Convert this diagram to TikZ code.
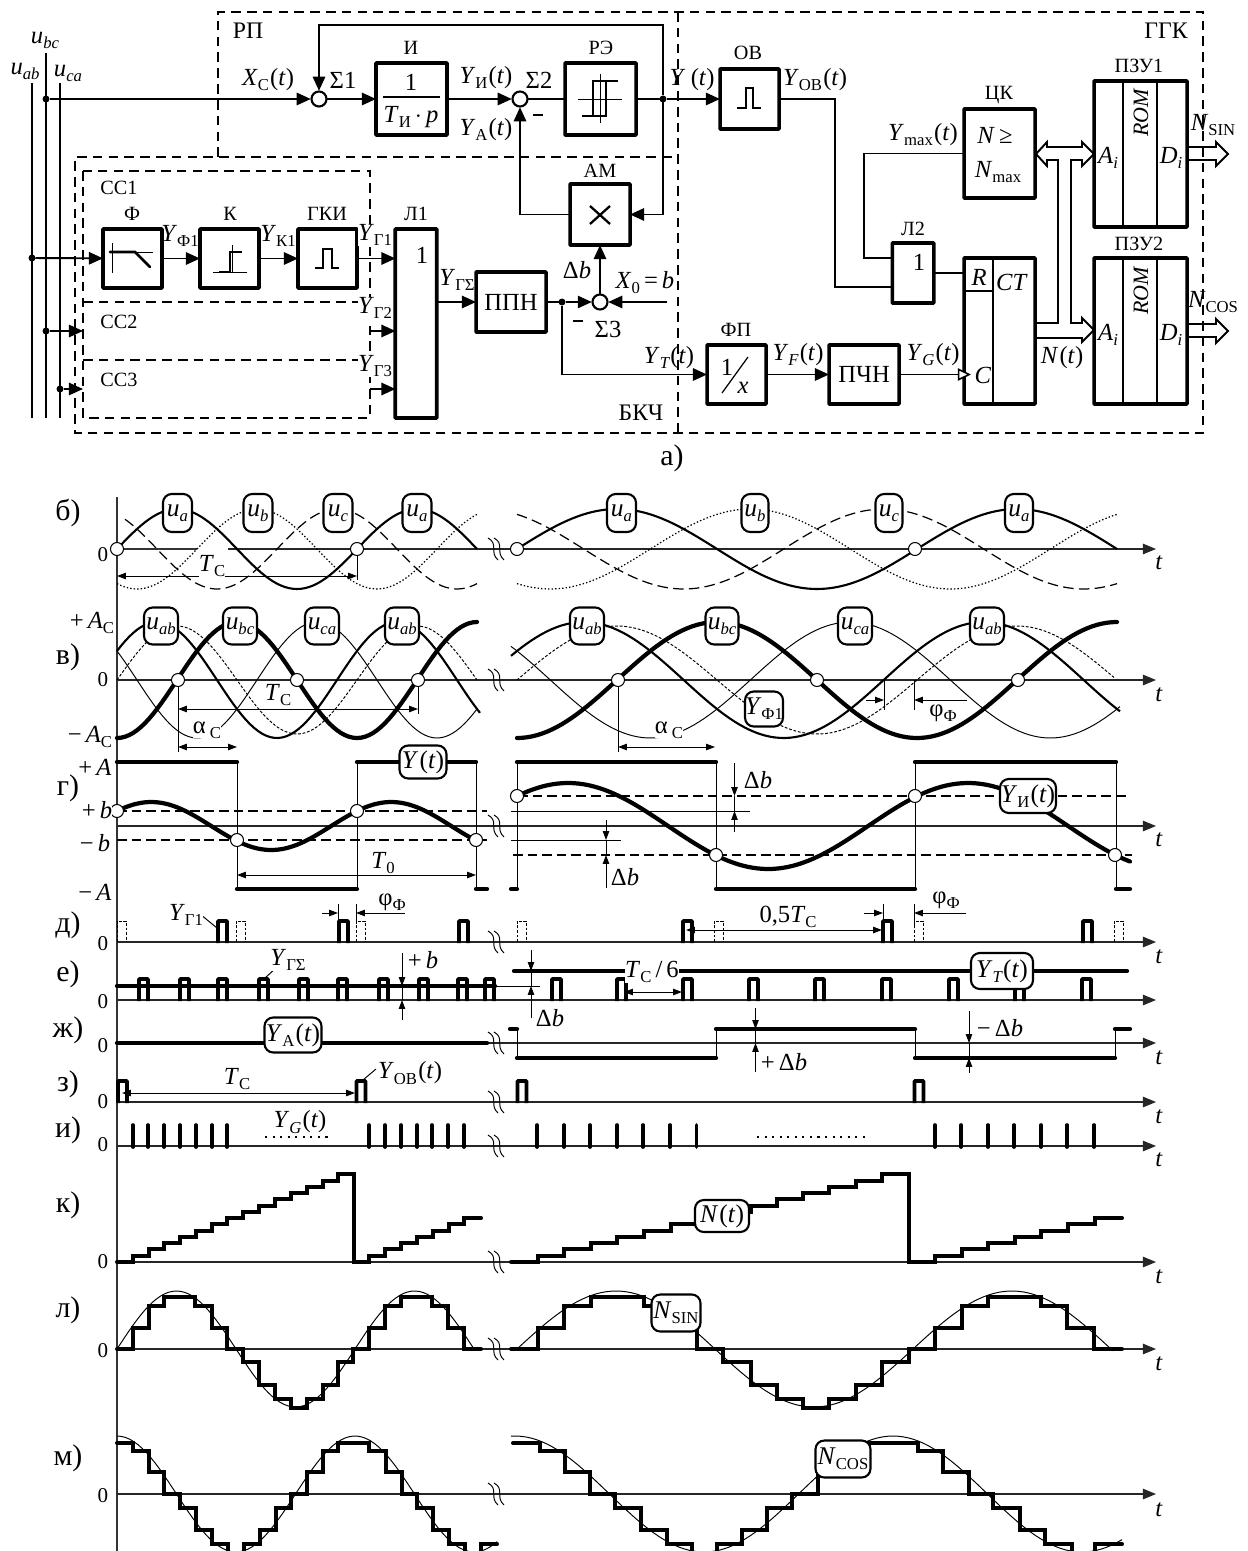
\documentclass[tikz,border=0pt]{standalone}
\usepackage{fontspec}
\setmainfont{Liberation Serif}
\usetikzlibrary{arrows.meta, calc}
\def\px{0.02cm}
\newcommand{\sbr}[2]{\textit{#1}\raisebox{-0.45ex}{\fontsize{9.5}{9.5}\selectfont #2}}
\newcommand{\sbi}[2]{\textit{#1}\raisebox{-0.45ex}{\fontsize{9.5}{9.5}\selectfont\itshape #2}}
\newcommand{\oft}{\kern0.05em(\textit{t})}
\tikzset{
  blk/.style 2 args={draw, line width=2pt, outer sep=0pt, inner sep=0pt, rounded corners=0.4pt,
    minimum width=#1*\px, minimum height=#2*\px},
  sumc/.style={circle, draw, fill=white, line width=1.2pt, minimum size=15*\px, inner sep=0pt, outer sep=0.4pt},
  jdot/.style={circle, fill=black, minimum size=7*\px, inner sep=0pt, outer sep=0pt},
  wire/.style={line width=1.1pt},
  sig/.style={wire, -{Triangle[length=8pt,width=7pt]}},
  frm/.style={line width=0.6pt, dash pattern=on 5.5pt off 3.5pt},
  bus/.style={line width=1.1pt, line join=miter},
  headl/.style={inner sep=0pt, font=\fontsize{11.5}{11.5}\selectfont},
  headb/.style={inner sep=0pt, font=\fontsize{13.5}{13.5}\selectfont},
  syml/.style={inner sep=0pt, font=\fontsize{14}{14}\selectfont},
  wavl/.style={inner sep=0pt, fill=white, font=\fontsize{14}{14}\selectfont},
  panl/.style={inner sep=0pt, font=\fontsize{17}{17}\selectfont},
  zerol/.style={inner sep=0pt, font=\fontsize{12}{12}\selectfont},
  tag/.style 2 args={draw, fill=white, line width=1.2pt, rounded corners=5pt, inner sep=0pt, outer sep=0pt,
    minimum width=#1*\px, minimum height=#2*\px, font=\fontsize{14.5}{14.5}\selectfont},
  axisln/.style={line width=0.7pt, black!80},
  axarr/.style={line width=0.7pt, black!85, -{Triangle[length=7.5pt,width=6pt]}},
  thin1/.style={line width=0.55pt},
  med1/.style={line width=1.2pt},
  thk1/.style={line width=2.4pt, line cap=round},
  stair/.style={line width=2.3pt, line cap=round, line join=miter},
  pulse/.style={line width=2.2pt, rounded corners=0.5pt},
  dpulse/.style={line width=0.55pt, dash pattern=on 1.6pt off 1pt},
  dimb/.style={line width=0.55pt, {Triangle[length=5pt,width=3.6pt]}-{Triangle[length=5pt,width=3.6pt]}},
  dimr/.style={line width=0.55pt, -{Triangle[length=5pt,width=3.6pt]}},
  dashl/.style={line width=0.8pt, dash pattern=on 5.5pt off 2.8pt},
  axisbrk/.pic={
    \draw[line width=0.55pt] (-8,-11) .. controls (3,-5) and (-7,3) .. (2,11);
    \draw[line width=0.55pt] (-2,-11) .. controls (9,-5) and (-1,3) .. (8,11);
  },
}
\begin{document}
\begin{tikzpicture}[x=0.02cm, y=-0.02cm]
  \path[use as bounding box, clip] (0,0) rectangle (1247,1551);
  % frames
  \draw[frm] (218,157) -- (218,12) -- (1203,12) -- (1203,433) -- (75,433) -- (75,157) -- (678,157);
  \draw[frm] (678,12) -- (678,433);
  \draw[frm] (83,171) rectangle (370,418);
  \draw[frm] (83,302) -- (370,302);
  \draw[frm] (83,360) -- (370,360);
  % blocks
  \node[blk={71}{72}] (integ) at (411.5,99) {};
  \node[blk={71}{72}] (relay) at (600.5,99) {};
  \node[blk={60}{61}] (ampm) at (600,214.5) {};
  \node[blk={59}{59}] (filt) at (132.5,258.5) {};
  \node[blk={59}{59}] (comp) at (229.5,258.5) {};
  \node[blk={59}{59}] (gki) at (327.5,258.5) {};
  \node[blk={41.5}{189}] (logone) at (416,323.5) {};
  \node[blk={70}{60}] (ppn) at (511,302) {\fontsize{14}{14}\selectfont ППН};
  \node[blk={59}{60}] (shot) at (749.5,99) {};
  \node[blk={71}{89}] (codec) at (999.5,153.5) {};
  \node[blk={71}{146}] (count) at (999.5,331) {};
  \node[blk={41.5}{60}] (logtwo) at (913,273) {};
  \node[blk={59}{59}] (recip) at (736.5,374.5) {};
  \node[blk={70}{59}] (pch) at (864,374.5) {\fontsize{14}{14}\selectfont ПЧН};
  \node[blk={93}{146}] (romone) at (1140.5,154) {};
  \node[blk={93}{146}] (romtwo) at (1140.5,331) {};
  \node[sumc] (sumone) at (319,99) {};
  \node[sumc] (sumtwo) at (520,99) {};
  \node[sumc] (sumthree) at (600,302) {};
  % junctions and free ends
  \node[jdot] (dotbc) at (46,99) {};
  \node[jdot] (dotab) at (32,258) {};
  \node[jdot] (dotbctwo) at (46,331) {};
  \node[jdot] (dotca) at (60,389) {};
  \node[jdot] (dotY) at (663,99) {};
  \node[jdot] (dotppn) at (562,302) {};
  \coordinate (abT) at (32,83);   \coordinate (abB) at (32,418);
  \coordinate (bcT) at (46,53);   \coordinate (bcB) at (46,418);
  \coordinate (caT) at (60,83);   \coordinate (caB) at (60,418);
  \coordinate (cctwo) at (83,331);
  \coordinate (ccthree) at (83,389);
  \coordinate (outone) at (358,258.5);
  \coordinate (outtwo) at (370,331);
  \coordinate (outthree) at (370,389);
  \coordinate (inone) at (395.5,258.5);
  \coordinate (intwo) at (395.5,331);
  \coordinate (inthree) at (395.5,389);
  \coordinate (logout) at (436.5,302);
  \coordinate (xzero) at (667,302);
  \coordinate (ltwoa) at (892,258);
  \coordinate (ltwob) at (892,287);
  \coordinate (ctr) at (964,273);
  \coordinate (ctc) at (971,374.5);
  % wires
  \draw[wire] (abT) -- (abB);
  \draw[wire] (bcT) -- (bcB);
  \draw[wire] (caT) -- (caB);
  \draw[sig] (dotbc) -- (sumone);
  \draw[sig] (sumone) -- (integ);
  \draw[sig] (integ) -- (sumtwo);
  \draw[wire] (sumtwo) -- (relay);
  \draw[wire] (relay) -- (dotY);
  \draw[sig] (dotY) -- (shot);
  \draw[sig] (dotY) -- ++(0,-74) -| (sumone);
  \draw[sig] (dotY) |- (ampm);
  \draw[sig] (ampm) -| (sumtwo);
  \draw[sig] (sumthree) -- (ampm);
  \draw[sig] (dotab) -- (filt);
  \draw[sig] (filt) -- (comp);
  \draw[sig] (comp) -- (gki);
  \draw[sig] (outone) -- (inone);
  \draw[sig] (outtwo) -- (intwo);
  \draw[sig] (outthree) -- (inthree);
  \draw[sig] (dotbctwo) -- (cctwo);
  \draw[sig] (dotca) -- (ccthree);
  \draw[sig] (logout) -- (ppn);
  \draw[wire] (ppn) -- (dotppn);
  \draw[sig] (dotppn) -- (sumthree);
  \draw[sig] (xzero) -- (sumthree);
  \draw[sig] (dotppn) |- (recip);
  \draw[sig] (recip) -- (pch);
  \draw[wire, -{Triangle[open,fill=white,length=7.5pt,width=7pt,line width=0.9pt]}] (pch) -- (ctc);
  \draw[wire] (shot.east) -- ++(56,0) |- (ltwob);
  \draw[wire] (codec.west) -- ++(-100,0) |- (ltwoa);
  \draw[wire] (logtwo.east |- ctr) -- (ctr);
  % marks inside the blocks
  \draw[line width=0.6pt] (383,97) -- (440,97);
  \draw[line width=0.5pt] (578,99) -- (622,99) (600,74) -- (600,123);
  \draw[line width=1pt] (582,116) -- (606,116) -- (606,81) -- (618,81) (593,116) -- (593,81) -- (606,81);
  \draw[line width=1.3pt] (590,206) -- (610,224) (610,206) -- (590,224);
  \draw[line width=0.5pt] (112,243) -- (112,273) (110,252) -- (153,252);
  \draw[line width=1.5pt, line cap=round] (110,252) -- (135,252) -- (150,267);
  \draw[line width=0.5pt] (213,272) -- (247,272) (232,245) -- (232,272);
  \draw[line width=1.2pt] (219,272) -- (230,272) -- (230,252) -- (242,252);
  \draw[line width=1.1pt] (315,268) -- (323,268) -- (323,249) -- (332,249) -- (332,268) -- (339,268);
  \draw[line width=1.1pt] (737,108) -- (746,108) -- (746,88) -- (753,88) -- (753,108) -- (761,108);
  \draw[line width=0.7pt] (748,357) -- (722,393);
  \draw[wire] (993,258) -- (993,404) (964,291) -- (993,291);
  \draw[wire] (1123,81) -- (1123,227) (1157,81) -- (1157,227);
  \draw[wire] (1123,258) -- (1123,404) (1157,258) -- (1157,404);
  \draw[line width=1.6pt] (533,115) -- (543,115) (573,321) -- (583,321);
  % buses
  \draw[bus] (1036,323) -- (1058,323) -- (1058,160) -- (1047,160) -- (1047,166) -- (1036,154) -- (1047,142) -- (1047,147)
    -- (1082,147) -- (1082,142) -- (1094,154) -- (1082,166) -- (1082,160) -- (1071,160) -- (1071,323)
    -- (1082,323) -- (1082,318) -- (1094,330) -- (1082,342) -- (1082,338) -- (1036,338);
  \draw[bus] (1188,147) -- (1216,147) -- (1216,142) -- (1228,154) -- (1216,166) -- (1216,160) -- (1188,160);
  \draw[bus] (1188,324) -- (1216,324) -- (1216,319) -- (1228,331) -- (1216,343) -- (1216,337) -- (1188,337);
  % block headings
  \foreach \nm/\xx/\yy/\txt in {hrp/248/31/РП, hggk/1166/31/ГГК, hbkc/641/413/БКЧ}
    \node[headb] (\nm) at (\xx,\yy) {\txt};
  \foreach \nm/\xx/\yy/\txt in {
    hccone/119/188/СС1, hcctwo/119/322/СС2, hccthree/119/380/СС3,
    hint/411/48/И, hrel/601/48/РЭ, ham/600/171/АМ, hfil/132/214/Ф, hcom/230/214/К, hgki/327/214/ГКИ, hlo/416/214/Л1,
    hov/748/53/ОВ, hck/999/95/ЦК, hro/1139/66/ПЗУ1, hrt/1139/244/ПЗУ2, hlt/913/229/Л2, hfp/736/330/ФП}
    \node[headl] (\nm) at (\xx,\yy) {\txt};
  % signal labels
  \foreach \nm/\xx/\yy/\txt in {
    lbc/45/40/{\sbi{u}{bc}}, lab/25/71/{\sbi{u}{ab}}, lca/68/73/{\sbi{u}{ca}},
    lxc/268/80/{\sbr{X}{С}\oft}, lsone/343/80/{Σ1}, lyi/486/78/{\sbr{Y}{И}\oft}, lstwo/539/80/{Σ2},
    lya/486/130/{\sbr{Y}{А}\oft}, lyf/180/236/{\sbr{Y}{Ф1}}, lyk/278/236/{\sbr{Y}{К1}},
    lgs/457/280/{\sbr{Y}{ГΣ}},
    ldb/577/270/{Δ\textit{b}}, lxz/645/283/{\sbr{X}{0}\,=\,\textit{b}}, lsth/608/329/{Σ3},
    lone/411/82/{1}, ltp/411/117/{\sbr{T}{И}\,$\cdot$\,\textit{p}}, llo/422/255/{1}, llt/919/262/{1},
    ly/692/80/{\textit{Y}\,\oft}, lyo/815/80/{\sbr{Y}{ОВ}\oft}, lym/923/135/{\sbr{Y}{max}\oft},
    lnge/995/135/{\textit{N}\,≥}, lnm/998/172/{\sbr{N}{max}}, lr/979/277/{\textit{R}}, lct/1012/282/{\textit{CT}},
    lc/983/375/{\textit{C}}, lyt/669/358/{\sbi{Y}{T}\oft}, lyfb/798/355/{\sbi{Y}{F}\oft},
    lyg/933/355/{\sbi{Y}{G}\oft}, lnt/1062/358/{\textit{N}\oft},
    lao/1108/158/{\sbi{A}{i}}, ldo/1171/158/{\sbi{D}{i}}, lat/1108/335/{\sbi{A}{i}}, ldt/1171/335/{\sbi{D}{i}},
    lns/1213/125/{\sbr{N}{SIN}}, lnc/1213/302/{\sbr{N}{COS}},
    lon/727/367/{1}, lx/743/388/{\textit{x}}}
    \node[syml] (\nm) at (\xx,\yy) {\txt};
  \foreach \nm/\xx/\yy/\txt in {lgo/375/235/{\sbr{Y}{Г1}}, lgt/375/308/{\sbr{Y}{Г2}}, lgh/375/366/{\sbr{Y}{Г3}}}
    \node[wavl] (\nm) at (\xx,\yy) {\txt};
  \node[syml, rotate=90, font=\fontsize{12.5}{12.5}\selectfont\itshape] (lrot) at (1141,113) {ROM};
  \node[syml, rotate=90, font=\fontsize{12.5}{12.5}\selectfont\itshape] (lrotb) at (1141,291) {ROM};
  \node[panl] (pa) at (672,458) {а)};
  % time axes
  \draw[axisln] (117,497) -- (117,1551);
  \draw[axisln] (117,549) -- (197,549);
  \draw[axarr] (228,549) -- (1156,549);
  \foreach \yy in {680,826,942,1000,1043,1102,1146,1262,1349,1494}
    \draw[axarr] (117,\yy) -- (1156,\yy);
  \foreach \yy in {549,680,826,942,1043,1102,1146,1262,1349,1494}
    \pic at (496,\yy) {axisbrk};
  \foreach \nm/\yy/\txt in {pb/513/б), pv/657/в), pg/788/г), pd/925/д), pe/974/е), pzh/1030/ж), pz/1084/з),
    pi/1130/и), pk/1205/к), pl/1310/л), pm/1458/м)}
    \node[panl] (\nm) at (68,\yy) {\txt};
  \foreach \nm/\yy in {za/555, zb/680, zc/944, zd/1002, ze/1046, zf/1102, zg/1145, zh/1262, zi/1351, zj/1496}
    \node[zerol] (\nm) at (103,\yy) {0};
  \foreach \nm/\yy in {ta/563, tb/695, tc/840, td/957, te/1058, tf/1117, tg/1160, th/1277, ti/1364, tj/1510}
    \node[syml] (\nm) at (1159,\yy) {\textit{t}};
  % phase voltages
  \draw[med1] plot[domain=117:477, samples=91] (\x, {549-40*sin(1.5*(\x-117))});
  \draw[line width=0.7pt, dash pattern=on 0.8pt off 1.2pt] plot[domain=117:477, samples=91] (\x, {549-40*sin(1.5*(\x-117)-120)});
  \draw[line width=0.7pt, dash pattern=on 6pt off 3pt] plot[domain=125:477, samples=91] (\x, {549-40*sin(1.5*(\x-117)+120)});
  \draw[med1] plot[domain=517:1117, samples=121] (\x, {549-40*sin(0.9*(\x-517))});
  \draw[line width=0.7pt, dash pattern=on 0.8pt off 1.2pt] plot[domain=517:1117, samples=121] (\x, {549-40*sin(0.9*(\x-517)-120)});
  \draw[line width=0.7pt, dash pattern=on 6pt off 3pt] plot[domain=517:1117, samples=121] (\x, {549-40*sin(0.9*(\x-517)+120)});
  \draw[dimb] (117,576) -- (357,576);
  \draw[thin1] (357,549) -- (357,580);
  % line voltages
  \draw[thin1, dash pattern=on 1.6pt off 1pt] plot[domain=117:477, samples=91] (\x, {680-54*sin(1.5*(\x-117))});
  \draw[thin1] plot[domain=117:477, samples=91] (\x, {680-58*sin(1.5*(\x-117)+150)});
  \draw[med1] plot[domain=117:480, samples=91] (\x, {680-58*sin(1.5*(\x-117)+30)});
  \draw[thk1] plot[domain=117:477, samples=91] (\x, {680-58*sin(1.5*(\x-117)-90)});
  \draw[thin1, dash pattern=on 1.6pt off 1pt] plot[domain=517:1114, samples=121] (\x, {680-54*sin(0.9*(\x-517))});
  \draw[thin1] plot[domain=511:1120, samples=121] (\x, {680-58*sin(0.9*(\x-517)+150)});
  \draw[med1] plot[domain=511:1120, samples=121] (\x, {680-58*sin(0.9*(\x-517)+30)});
  \draw[thk1] plot[domain=517:1117, samples=121] (\x, {680-58*sin(0.9*(\x-517)-90)});
  \draw[thin1] (178,680) -- (178,752) (418,680) -- (418,714) (618,680) -- (618,752);
  \draw[dimb] (178,709) -- (418,709);
  \draw[dimb] (178,747) -- (237,747);
  \draw[dimb] (618,747) -- (715,747);
  \draw[thin1] (884,680) -- (884,710) (914,680) -- (914,710);
  \draw[dimr] (866,700) -- (884,700);
  \draw[dimr] (967,700) -- (914,700);
  % integrator output and relay output
  \draw[dashl] (117,811) -- (487,811) (117,840) -- (487,840) (518,796) -- (1127,796) (513,855) -- (1132,855);
  \draw[thin1] (511,811) -- (750,811) (511,840) -- (621,840);
  \draw[thin1] (237,762) -- (237,889) (357,762) -- (357,889) (476,762) -- (476,889)
    (517,762) -- (517,889) (716,762) -- (716,889) (915,762) -- (915,889) (1116,762) -- (1116,889);
  \draw[thk1] (117,762) -- (237,762) (237,889) -- (357,889) (357,762) -- (476,762) (476,889) -- (487,889)
    (511,889) -- (517,889) (517,762) -- (716,762) (716,889) -- (915,889) (915,762) -- (1116,762) (1116,889) -- (1130,889);
  \draw[thk1] plot[domain=117:477, samples=91] (\x, {826-24*sin(1.5*(\x-117)+38.7)});
  \draw[thk1] plot[domain=517:1130, samples=121] (\x, {826-43*sin(0.9*(\x-517)+44)});
  \draw[dimb] (237,875) -- (476,875);
  \draw[dimr] (734.5,763) -- (734.5,796);
  \draw[dimr] (734.5,832) -- (734.5,811);
  \draw[thin1] (734.5,796) -- (734.5,811);
  \draw[dimr] (606,820) -- (606,840);
  \draw[dimr] (606,888) -- (606,855);
  \draw[thin1] (606,840) -- (606,855);
  % sector pulses
  \foreach \xx in {117,236,356,517,714,914,1114}
    \draw[dpulse] (\xx,942) -- (\xx,921) -- (\xx+9,921) -- (\xx+9,942);
  \foreach \xx in {218,339,459,683,883,1083}
    \draw[pulse] (\xx,943) -- (\xx,921) -- (\xx+9,921) -- (\xx+9,943);
  \draw[thin1] (200,914) -- (217,928);
  \draw[thin1] (338,904) -- (338,921) (356,904) -- (356,921) (883,904) -- (883,921) (914,904) -- (914,925);
  \draw[dimr] (322,913) -- (338,913);
  \draw[dimr] (405,913) -- (356,913);
  \draw[dimr] (864,913) -- (883,913);
  \draw[dimr] (966,913) -- (914,913);
  \draw[dimb] (686,930) -- (882,930);
  % summed pulses
  \draw[thk1] (117,986) -- (495,986);
  \draw[thin1] (495,986) -- (540,986);
  \foreach \xx in {139,180,218,259,299,338,379,419,458,485,552,617,683,749,815,882,949,1015,1082}
    \draw[pulse] (\xx,1001) -- (\xx,979) -- (\xx+9,979) -- (\xx+9,1001);
  \draw[thk1] (514,971) -- (1127,971);
  \draw[thin1] (276,968) -- (265,978);
  \draw[dimr] (402,953) -- (402,986);
  \draw[dimr] (402,1020) -- (402,1000);
  \draw[thin1] (402,986) -- (402,1000);
  \draw[dimr] (531,950) -- (531,971);
  \draw[dimr] (531,1018) -- (531,986);
  \draw[thin1] (531,971) -- (531,986);
  \draw[dimb] (624,992) -- (682,992);
  % reference correction
  \draw[thk1] (117,1043) -- (487,1043);
  \draw[thin1] (517,1029) -- (517,1058) (716,1029) -- (716,1058) (915,1029) -- (915,1058) (1115,1029) -- (1115,1058);
  \draw[thk1] (510,1029) -- (517,1029) (517,1058) -- (716,1058) (716,1029) -- (915,1029) (915,1058) -- (1115,1058) (1115,1029) -- (1130,1029);
  \draw[dimr] (755.5,1008) -- (755.5,1029);
  \draw[dimr] (755.5,1072) -- (755.5,1043);
  \draw[thin1] (755.5,1029) -- (755.5,1043);
  \draw[dimr] (969,1011) -- (969,1043);
  \draw[dimr] (969,1073) -- (969,1058);
  \draw[thin1] (969,1043) -- (969,1058);
  % one-shot pulses
  \foreach \xx in {118,356.5,517.5,914.5}
    \draw[pulse] (\xx,1103) -- (\xx,1081) -- (\xx+9,1081) -- (\xx+9,1103);
  \draw[dimb] (122,1093) -- (355,1093);
  \draw[thin1] (376,1069) -- (363,1080);
  % clock pulses
  \foreach \xx in {133,148,164,180,196,212,227,369,385,401,417,432,448,464,537,564,590,617,643,670,696.5,935,961,988,1014,1041,1067,1094}
    \draw[line width=2.1pt, line cap=round] (\xx,1147) -- (\xx,1125);
  \draw[line width=1.2pt, dash pattern=on 1.2pt off 3.1pt] (265,1137) -- (329,1137) (757,1137) -- (870,1137);
  % counter code
  \draw[stair] (117,1262) \foreach \xx/\yy in {133/1256,149/1249,164/1243,180/1237,196/1231,212/1224,227/1218,243/1212,259/1206,275/1199,291/1193,307/1187,323/1181,338/1174,354/1262,369/1256,385/1249,401/1243,417/1237,433/1231,449/1224,464/1218} { -| (\xx,\yy) } -- (481,1218);
  \draw[stair] (511,1262) \foreach \xx/\yy in {538/1256,564/1249,591/1243,617/1237,644/1231,671/1224,697/1218,724/1212,751/1206,777/1199,803/1193,829/1187,856/1181,882/1174,909/1262,935/1256,962/1249,988/1243,1015/1237,1041/1231,1068/1224,1095/1218} { -| (\xx,\yy) } -- (1122,1218);
  % sine code
  \draw[thin1] plot[domain=117:475, samples=91] (\x, {1349-58*sin(1.5126*(\x-117))});
  \draw[thin1] plot[domain=517:1113, samples=121] (\x, {1349-58*sin(0.90909*(\x-517))});
  \draw[stair] (117,1349) \foreach \xx/\yy in {133/1328,149/1306,164/1297,195/1306,212/1328,227/1349,243/1362,259/1385,275/1399,291/1408,307/1399,323/1385,338/1362,353/1349,369/1328,385/1306,401/1297,432/1306,448/1328,464/1349} { -| (\xx,\yy) } -- (481,1349);
  \draw[stair] (511,1349) \foreach \xx/\yy in {538/1328,564/1306,591/1297,644/1306,671/1328,697/1349,723/1362,751/1385,777/1399,803/1408,829/1399,856/1385,882/1362,909/1349,935/1328,962/1306,988/1297,1041/1306,1067/1328,1094/1349} { -| (\xx,\yy) } -- (1122,1349);
  % cosine code
  \draw[thin1] plot[domain=117:497, samples=91] (\x, {1494-58*cos(1.5126*(\x-117))});
  \draw[thin1] plot[domain=511:1122, samples=121] (\x, {1494-58*cos(0.95238*(\x-515))});
  \draw[stair] (117,1443) \foreach \xx/\yy in {133/1451,149/1472,164/1494,180/1508,196/1530,212/1544,228/1553,244/1544,260/1530,276/1508,291/1494,307/1472,323/1451,338/1443,369/1451,386/1472,402/1494,417/1508,433/1530,449/1544,465/1553,481/1544} { -| (\xx,\yy) } -- (497,1544);
  \draw[stair] (513,1443) \foreach \xx/\yy in {540/1451,565/1472,590/1494,615/1508,641/1530,667/1544,692/1553,717/1544,742/1530,767/1508,792/1494,818/1472,843/1451,869/1443,918/1451,943/1472,969/1494,993/1508,1020/1530,1045/1544,1072/1553,1095/1544} { -| (\xx,\yy) } -- (1122,1544);
  % crossing points
  \foreach \xx/\yy in {117/549,357/549,517/549,915/549,178/680,297/680,418/680,618/680,817/680,1018/680,
    117/811,237/840,357/811,476/840,517/796,716/855,915/796,1115/855}
    \draw[fill=white, line width=0.6pt] (\xx,\yy) circle (6.5*\px);
  % level labels
  \foreach \nm/\xx/\yy/\txt in {
    wtc/212/566/{\sbr{T}{С}}, wtd/278/695/{\sbr{T}{С}}, wac/207/730/{α\,\raisebox{-0.45ex}{\fontsize{9.5}{9.5}\selectfont С}},
    wae/669/730/{α\,\raisebox{-0.45ex}{\fontsize{9.5}{9.5}\selectfont С}},
    wpf/943/713/{φ\raisebox{-0.45ex}{\fontsize{9.5}{9.5}\selectfont Ф}},
    wpac/92/623/{+\,\sbr{A}{С}}, wmac/90/737/{−\,\sbr{A}{С}}, wpa/95/767/{+\,\textit{A}}, wpb/97/810/{+\,\textit{b}},
    wmb/95/843/{−\,\textit{b}}, wma/95/892/{−\,\textit{A}}, wtz/383/863/{\sbr{T}{0}},
    wdb/758/780/{Δ\textit{b}}, wdc/625/877/{Δ\textit{b}},
    wgo/186/915/{\sbr{Y}{Г1}}, wpg/392/902/{φ\raisebox{-0.45ex}{\fontsize{9.5}{9.5}\selectfont Ф}},
    wph/946/900/{φ\raisebox{-0.45ex}{\fontsize{9.5}{9.5}\selectfont Ф}}, wht/788/917/{0,5\sbr{T}{С}},
    wgs/288/960/{\sbr{Y}{ГΣ}}, wpbb/423/960/{+\,\textit{b}}, wdd/550/1018/{Δ\textit{b}},
    wts/652/972/{\sbr{T}{С}\,/\,6}, wpd/784/1062/{+\,Δ\textit{b}}, wmd/1000/1028/{−\,Δ\textit{b}},
    wtt/237/1079/{\sbr{T}{С}}, wyo/410/1073/{\sbr{Y}{ОВ}\oft}, wyg/300/1122/{\sbi{Y}{G}\oft}}
    \node[wavl] (\nm) at (\xx,\yy) {\txt};
  % curve tags
  \foreach \nm/\xx/\yy/\ww/\hh/\txt in {
    tua/177.5/513/29/38/{\sbi{u}{a}}, tub/258/513/29/38/{\sbi{u}{b}}, tuc/338/513/29/38/{\sbi{u}{c}}, tud/417/513/29/38/{\sbi{u}{a}},
    tue/621.5/513/29/38/{\sbi{u}{a}}, tuf/755/513/27/38/{\sbi{u}{b}}, tug/889/513/27/38/{\sbi{u}{c}}, tuh/1019/513/28/38/{\sbi{u}{a}},
    tva/161/626/34/37/{\sbi{u}{ab}}, tvb/240/626/34/37/{\sbi{u}{bc}}, tvc/322/626/34/37/{\sbi{u}{ca}}, tvd/402/626/34/37/{\sbi{u}{ab}},
    tve/587/626/34/37/{\sbi{u}{ab}}, tvf/722/626/33/37/{\sbi{u}{bc}}, tvg/855/626/34/37/{\sbi{u}{ca}}, tvh/987/626/34/37/{\sbi{u}{ab}},
    tyf/764/709/36/35/{\sbr{Y}{Ф1}}, tyt/423/762/47/33/{\textit{Y}\oft}, tyi/1028/796/56/34/{\sbr{Y}{И}\oft},
    tyy/1002/971/62/36/{\sbi{Y}{T}\oft}, tya/293/1035/57/35/{\sbr{Y}{А}\oft},
    tnt/722/1216/54/32/{\textit{N}\oft}, tns/676/1313/49/37/{\sbr{N}{SIN}}, tnc/843/1459/55/37/{\sbr{N}{COS}}}
    \node[tag={\ww}{\hh}] (\nm) at (\xx,\yy) {\txt};
\end{tikzpicture}
\end{document}
